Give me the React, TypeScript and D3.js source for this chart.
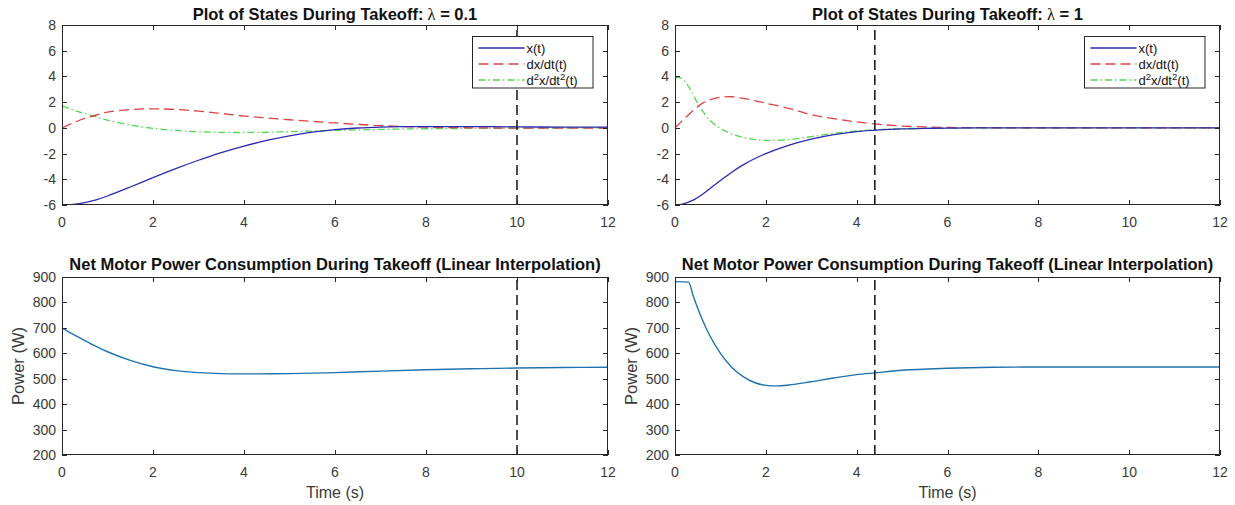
import React, { useEffect, useRef } from 'react';
import * as d3 from 'd3';

// tick values shared by the panels
const timeTicks = [0, 2, 4, 6, 8, 10, 12];
const stateTicks = [-6, -4, -2, 0, 2, 4, 6, 8];
const powerTicks = [200, 300, 400, 500, 600, 700, 800, 900];

// lambda = 0.1 : states
const tSlow = [0, 0.25, 0.5, 0.75, 1, 1.5, 2, 2.5, 3, 3.5, 4, 4.5, 5, 5.5, 6, 6.5, 7, 7.5, 8, 9, 10, 11, 12];
const xSlow = [-6, -5.95, -5.82, -5.6, -5.3, -4.6, -3.87, -3.17, -2.52, -1.93, -1.42, -0.98, -0.62, -0.34, -0.14, -0.01, 0.06, 0.09, 0.1, 0.1, 0.08, 0.06, 0.05];
const dxSlow = [0, 0.4, 0.73, 1.0, 1.22, 1.42, 1.48, 1.43, 1.3, 1.12, 0.92, 0.77, 0.63, 0.5, 0.38, 0.27, 0.17, 0.1, 0.05, 0.0, -0.02, -0.02, -0.01];
const ddxSlow = [1.72, 1.38, 1.11, 0.85, 0.6, 0.22, -0.04, -0.2, -0.3, -0.35, -0.36, -0.34, -0.3, -0.25, -0.2, -0.16, -0.12, -0.09, -0.07, -0.04, -0.02, -0.01, 0];

// lambda = 1 : states
const tFast = [0, 0.1, 0.2, 0.3, 0.4, 0.5, 0.6, 0.75, 1, 1.25, 1.5, 1.75, 2, 2.5, 3, 3.5, 4, 4.5, 5, 5.5, 6, 7, 8, 10, 12];
const xFast = [-6, -5.98, -5.9, -5.78, -5.62, -5.42, -5.18, -4.78, -4.1, -3.45, -2.88, -2.4, -2.0, -1.36, -0.88, -0.53, -0.3, -0.16, -0.08, -0.04, -0.02, 0, 0, 0, 0];
const dxFast = [0, 0.35, 0.7, 1.02, 1.35, 1.65, 1.9, 2.15, 2.38, 2.42, 2.3, 2.12, 1.92, 1.52, 1.02, 0.72, 0.46, 0.27, 0.14, 0.07, 0.03, 0.01, 0, 0, 0];
const ddxFast = [3.9, 3.9, 3.7, 3.2, 2.55, 1.9, 1.35, 0.65, -0.05, -0.48, -0.75, -0.9, -0.97, -0.92, -0.68, -0.42, -0.24, -0.13, -0.07, -0.04, -0.02, 0, 0, 0, 0];

// net motor power (W)
const tPowerSlow = [0, 0.25, 0.5, 0.75, 1, 1.5, 2, 2.5, 3, 3.5, 4, 5, 6, 7, 8, 9, 10, 11, 12];
const powerSlow = [700, 674, 650, 627, 606, 572, 547, 532, 524, 520, 519, 520, 524, 530, 535, 539, 542, 544, 545];
const tPowerFast = [0, 0.3, 0.4, 0.5, 0.6, 0.75, 1, 1.25, 1.5, 1.75, 2, 2.25, 2.5, 3, 3.5, 4, 4.4, 5, 6, 7, 8, 10, 12];
const powerFast = [882, 880, 826, 777, 733, 675, 600, 545, 508, 485, 474, 472, 475, 488, 503, 516, 523, 533, 541, 545, 546, 546, 546];

// settling time markers
const settleSlow = 10;
const settleFast = 4.4;

const legendLabels = ['x(t)', 'dx/dt(t)', 'd2x/dt2(t)'];

const W = 1235;
const H = 505;
const FONT = "'Liberation Sans', Arial, sans-serif";
const INK = '#262626';

const BLUE = '#2a2ab0';
const RED = '#dc4444';
const GREEN = '#50d850';
const POWER = '#1f72b0';

export default function App() {
    const ref = useRef<SVGSVGElement>(null);

    useEffect(() => {
        const svg = d3.select(ref.current);
        svg.selectAll('*').remove();
        let clipId = 0;

        const panel = (box: { l: number; r: number; t: number; b: number }, yDomain: number[], yTicks: number[]) => {
            const x = d3.scaleLinear().domain([0, 12]).range([box.l, box.r]);
            const y = d3.scaleLinear().domain(yDomain).range([box.b, box.t]);
            const g = svg.append('g');
            const id = 'clip' + clipId++;
            g.append('clipPath').attr('id', id).append('rect')
                .attr('x', box.l).attr('y', box.t).attr('width', box.r - box.l).attr('height', box.b - box.t);
            const plot = g.append('g').attr('clip-path', `url(#${id})`);

            // ticks on all four sides, pointing in
            const axes = g.append('g').attr('stroke', INK).attr('stroke-width', 1);
            timeTicks.forEach(v => {
                const px = Math.round(x(v)) + 0.5;
                axes.append('line').attr('x1', px).attr('x2', px).attr('y1', box.b).attr('y2', box.b - 5);
                axes.append('line').attr('x1', px).attr('x2', px).attr('y1', box.t).attr('y2', box.t + 5);
            });
            yTicks.forEach(v => {
                const py = Math.round(y(v)) + 0.5;
                axes.append('line').attr('x1', box.l).attr('x2', box.l + 5).attr('y1', py).attr('y2', py);
                axes.append('line').attr('x1', box.r).attr('x2', box.r - 5).attr('y1', py).attr('y2', py);
            });
            axes.append('rect').attr('x', box.l + 0.5).attr('y', box.t + 0.5)
                .attr('width', box.r - box.l - 1).attr('height', box.b - box.t - 1).attr('fill', 'none');

            const labels = g.append('g').attr('font-family', FONT).attr('font-size', 14).attr('fill', '#3a3a3a');
            labels.selectAll('text.xt').data(timeTicks).join('text')
                .attr('x', d => x(d)).attr('y', box.b + 22).attr('text-anchor', 'middle').text(d => d);
            labels.selectAll('text.yt').data(yTicks).join('text')
                .attr('class', 'yt')
                .attr('x', box.l - 6).attr('y', d => y(d) + 5).attr('text-anchor', 'end').text(d => d);
            return { x, y, plot, g };
        };

        const drawLine = (p: any, t: number[], v: number[], color: string, dash: string | null, width = 1.3, curve: any = d3.curveCatmullRom) => {
            const line = d3.line<number>().x((_, i) => p.x(t[i])).y(d => p.y(d)).curve(curve);
            p.plot.append('path').datum(v).attr('d', line).attr('fill', 'none')
                .attr('stroke', color).attr('stroke-width', width)
                .attr('stroke-dasharray', dash);
        };

        const marker = (p: any, t: number) => {
            p.plot.append('line').attr('x1', p.x(t)).attr('x2', p.x(t))
                .attr('y1', p.y.range()[0]).attr('y2', p.y.range()[1])
                .attr('stroke', '#111').attr('stroke-width', 1.5).attr('stroke-dasharray', '10,5');
        };

        const title = (p: any, text: string, lambda: string | null, yPos: number) => {
            const [l, r] = p.x.range();
            const tt = svg.append('text').attr('x', (l + r) / 2).attr('y', yPos)
                .attr('text-anchor', 'middle').attr('font-family', FONT).attr('font-size', 16.5)
                .attr('font-weight', 'bold').attr('fill', '#111').text(text);
            if (lambda) {
                tt.append('tspan').attr('font-family', "'Liberation Serif', serif").attr('font-weight', 'normal').text('  λ');
                tt.append('tspan').text(' = ' + lambda);
            }
        };

        const legend = (p: any) => {
            const r = p.x.range()[1];
            const top = p.y.range()[1];
            const bx = r - 15 - 120.5;
            const by = top + 11.5;
            const lg = svg.append('g');
            lg.append('rect').attr('x', bx).attr('y', by).attr('width', 120.5).attr('height', 51.5)
                .attr('fill', '#fff').attr('stroke', INK).attr('stroke-width', 1);
            const styles = [[BLUE, null], [RED, '10,5'], [GREEN, '7,3,1.5,3']];
            legendLabels.forEach((lab, i) => {
                const cy = by + 11.5 + i * 16;
                lg.append('line').attr('x1', bx + 6).attr('x2', bx + 52).attr('y1', cy).attr('y2', cy)
                    .attr('stroke', styles[i][0] as string).attr('stroke-width', 1.3)
                    .attr('stroke-dasharray', styles[i][1] as any);
                const txt = lg.append('text').attr('x', bx + 54).attr('y', cy + 4.5)
                    .attr('font-family', FONT).attr('font-size', 13).attr('fill', '#111');
                if (i < 2) {
                    txt.text(lab);
                } else {
                    txt.append('tspan').text('d');
                    txt.append('tspan').attr('dy', -5).attr('font-size', 9.5).text('2');
                    txt.append('tspan').attr('dy', 5).text('x/dt');
                    txt.append('tspan').attr('dy', -5).attr('font-size', 9.5).text('2');
                    txt.append('tspan').attr('dy', 5).text('(t)');
                }
            });
        };

        const powerLabels = (p: any) => {
            const [l, r] = p.x.range();
            const [b, t] = p.y.range();
            svg.append('text').attr('x', (l + r) / 2).attr('y', b + 43).attr('text-anchor', 'middle')
                .attr('font-family', FONT).attr('font-size', 16).attr('fill', '#3a3a3a').text('Time (s)');
            svg.append('text').attr('transform', `translate(${l - 38},${(b + t) / 2}) rotate(-90)`)
                .attr('text-anchor', 'middle').attr('font-family', FONT).attr('font-size', 16.5)
                .attr('fill', '#3a3a3a').text('Power (W)');
        };

        // top left: lambda = 0.1
        const p1 = panel({ l: 62, r: 608, t: 25, b: 205 }, [-6, 8], stateTicks);
        drawLine(p1, tSlow, ddxSlow, GREEN, '7,3,1.5,3');
        drawLine(p1, tSlow, dxSlow, RED, '10,5');
        drawLine(p1, tSlow, xSlow, BLUE, null);
        marker(p1, settleSlow);
        legend(p1);
        title(p1, 'Plot of States During Takeoff:', '0.1', 19.5);

        // top right: lambda = 1
        const p2 = panel({ l: 675, r: 1220, t: 25, b: 205 }, [-6, 8], stateTicks);
        drawLine(p2, tFast, ddxFast, GREEN, '7,3,1.5,3');
        drawLine(p2, tFast, dxFast, RED, '10,5');
        drawLine(p2, tFast, xFast, BLUE, null);
        marker(p2, settleFast);
        legend(p2);
        title(p2, 'Plot of States During Takeoff:', '1', 19.5);

        // bottom left
        const p3 = panel({ l: 62, r: 608, t: 277, b: 455 }, [200, 900], powerTicks);
        drawLine(p3, tPowerSlow, powerSlow, POWER, null, 1.4);
        marker(p3, settleSlow);
        title(p3, 'Net Motor Power Consumption During Takeoff (Linear Interpolation)', null, 270);
        powerLabels(p3);

        // bottom right
        const p4 = panel({ l: 675, r: 1220, t: 277, b: 455 }, [200, 900], powerTicks);
        drawLine(p4, tPowerFast, powerFast, POWER, null, 1.4, d3.curveMonotoneX);
        marker(p4, settleFast);
        title(p4, 'Net Motor Power Consumption During Takeoff (Linear Interpolation)', null, 270);
        powerLabels(p4);
    }, []);

    return (
        <svg ref={ref} width={W} height={H}
             style={{ position: 'absolute', left: 0, top: 0, background: '#fff' }} />
    );
}
